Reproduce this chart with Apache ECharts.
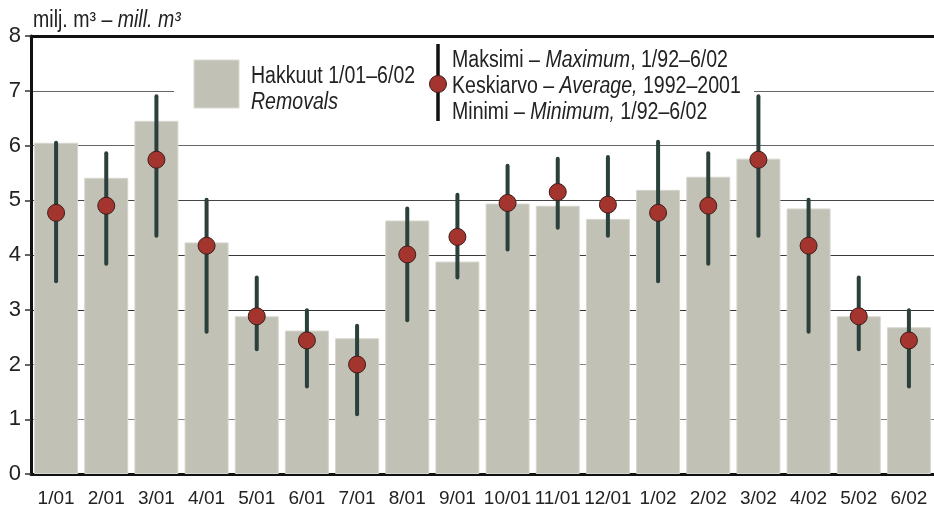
<!DOCTYPE html>
<html>
<head>
<meta charset="utf-8">
<script src="https://cdn.jsdelivr.net/npm/echarts@6/dist/echarts.min.js"></script>
<style>
  html, body { margin: 0; padding: 0; background: #fff; }
  #chart { width: 934px; height: 518px; }
</style>
</head>
<body>
<div id="chart"></div>
<script>
// Monthly removals (million m³) with the long-term average and min/max range
const months = ['1/01','2/01','3/01','4/01','5/01','6/01','7/01','8/01','9/01','10/01','11/01','12/01',
                '1/02','2/02','3/02','4/02','5/02','6/02'];
const removals = [6.05, 5.41, 6.45, 4.23, 2.88, 2.62, 2.48, 4.63, 3.88, 4.94, 4.90, 4.66,
                  5.19, 5.43, 5.76, 4.85, 2.88, 2.68];
const average  = [4.77, 4.90, 5.74, 4.17, 2.88, 2.44, 2.00, 4.01, 4.33, 4.95, 5.15, 4.92,
                  4.77, 4.90, 5.74, 4.17, 2.88, 2.44];
const maximum  = [6.05, 5.86, 6.90, 5.01, 3.59, 2.99, 2.71, 4.85, 5.10, 5.63, 5.76, 5.79,
                  6.07, 5.86, 6.90, 5.01, 3.59, 2.99];
const minimum  = [3.52, 3.84, 4.35, 2.60, 2.28, 1.60, 1.09, 2.81, 3.59, 4.10, 4.50, 4.35,
                  3.52, 3.84, 4.35, 2.60, 2.28, 1.60];
const yTicks = { min: 0, max: 8, interval: 1 };

const FONT = '"Liberation Sans", Arial, sans-serif';
const TEXT = '#222';
const BAR = '#c1c1b6';
const WHISKER = '#2c403b';
const DOT = '#a3352e';
const NARROW = 0.85;   // horizontal squeeze for the condensed caption lettering

const chart = echarts.init(document.getElementById('chart'), null, { renderer: 'canvas' });

const rangeData = months.map((m, i) => [i, minimum[i], maximum[i]]);

// a condensed rich-text caption anchored at its left edge, vertically centred on y
function caption(x, y, parts) {
  return {
    type: 'text', z: 10, x: x, y: y, scaleX: NARROW,
    style: {
      text: parts,
      verticalAlign: 'middle',
      rich: {
        n: { fontFamily: FONT, fontSize: 23, fill: TEXT },
        i: { fontFamily: FONT, fontSize: 23, fill: TEXT, fontStyle: 'italic' }
      }
    }
  };
}

chart.setOption({
  animation: false,
  backgroundColor: '#fff',
  textStyle: { fontFamily: FONT },
  grid: { left: 31, right: -4, top: 36, bottom: 44, containLabel: false },
  xAxis: [{
    type: 'category',
    data: months,
    axisLine: { lineStyle: { color: '#111', width: 3 } },
    axisTick: { alignWithLabel: true, interval: 0, length: 7, lineStyle: { color: '#555', width: 1.5 } },
    axisLabel: { interval: 0, fontFamily: FONT, fontSize: 19, color: TEXT, margin: 15 }
  }, {
    type: 'category',
    data: months,
    position: 'top',
    axisLine: { lineStyle: { color: '#111', width: 3 } },
    axisTick: { show: false },
    axisLabel: { show: false }
  }],
  yAxis: {
    type: 'value',
    min: yTicks.min, max: yTicks.max, interval: yTicks.interval,
    axisLine: { show: true, lineStyle: { color: '#111', width: 3 } },
    axisTick: { show: true, length: 6, lineStyle: { color: '#333', width: 1.5 } },
    axisLabel: { fontFamily: FONT, fontSize: 22, color: TEXT, margin: 10 },
    splitLine: {
      show: true,
      lineStyle: {
        width: 1.2,
        color: ['#111', '#858585', '#858585', '#333', '#3a3a3a', '#444', '#666', '#666', '#111']
      }
    }
  },
  graphic: [
    // gap in the 7-line behind the legend
    { type: 'rect', z: 5, shape: { x: 174, y: 85, width: 580, height: 12 }, style: { fill: '#fff' } },
    // unit label
    caption(33, 21, '{n|milj. m³ – }{i|mill. m³}'),
    // legend: removals swatch
    { type: 'rect', z: 10, shape: { x: 194, y: 60, width: 45, height: 48 },
      style: { fill: BAR, stroke: '#d8d8d0', lineWidth: 1 } },
    caption(251, 77, '{n|Hakkuut 1/01–6/02}'),
    caption(251, 103, '{i|Removals}'),
    // legend: range and average
    { type: 'line', z: 10, shape: { x1: 438, y1: 44, x2: 438, y2: 121 },
      style: { stroke: '#111', lineWidth: 3.5 } },
    { type: 'circle', z: 11, shape: { cx: 438, cy: 84, r: 8.5 },
      style: { fill: DOT, stroke: '#3b1d1a', lineWidth: 1 } },
    caption(452, 61, '{n|Maksimi – }{i|Maximum}{n|, 1/92–6/02}'),
    caption(452, 87, '{n|Keskiarvo – }{i|Average,}{n| 1992–2001}'),
    caption(452, 113, '{n|Minimi – }{i|Minimum,}{n| 1/92–6/02}')
  ],
  series: [
    {
      name: 'Hakkuut',
      type: 'bar',
      data: removals,
      barWidth: 44,
      itemStyle: { color: BAR, borderColor: '#d6d6ce', borderWidth: 1 },
      z: 2
    },
    {
      name: 'Vaihteluväli',
      type: 'custom',
      data: rangeData,
      encode: { x: 0, y: [1, 2] },
      z: 3,
      renderItem: function (params, api) {
        const i = api.value(0);
        const lo = api.coord([i, api.value(1)]);
        const hi = api.coord([i, api.value(2)]);
        return {
          type: 'line',
          shape: { x1: lo[0], y1: lo[1], x2: hi[0], y2: hi[1] },
          style: { stroke: WHISKER, lineWidth: 4, lineCap: 'round' }
        };
      }
    },
    {
      name: 'Keskiarvo',
      type: 'scatter',
      data: average,
      symbol: 'circle',
      symbolSize: 17,
      itemStyle: { color: DOT, borderColor: '#3b1d1a', borderWidth: 1, opacity: 1 },
      z: 4
    }
  ]
});
</script>
</body>
</html>
